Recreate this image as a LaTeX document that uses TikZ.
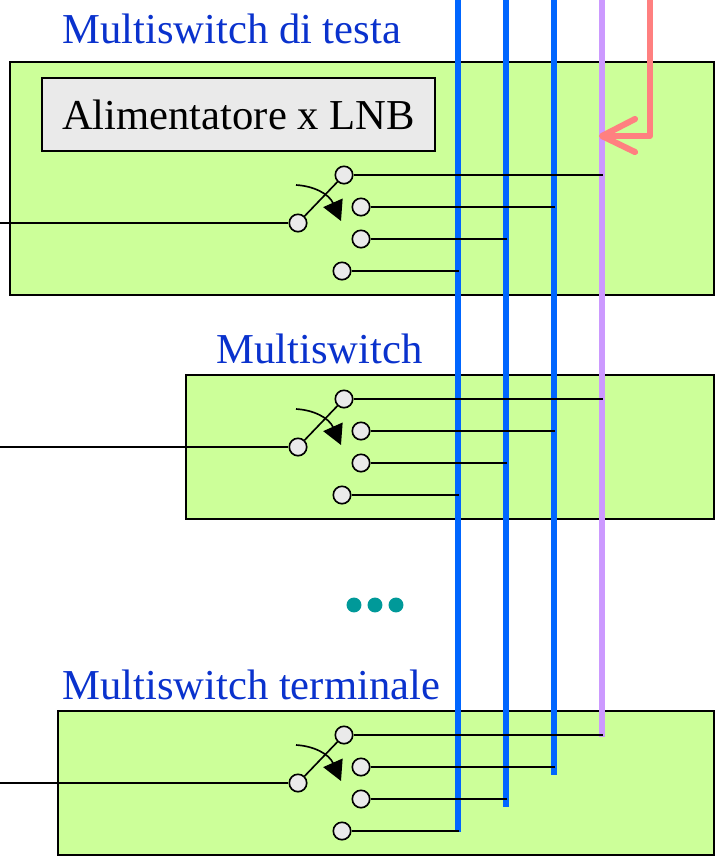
\documentclass[tikz,border=0pt]{standalone}
\usepackage{fontspec}
\setmainfont{Liberation Serif}
\usetikzlibrary{arrows.meta}

\definecolor{boxgreen}{RGB}{204,255,153}
\definecolor{boxgray}{RGB}{234,234,234}
\definecolor{titleblue}{RGB}{10,50,205}
\definecolor{busblue}{RGB}{0,102,255}
\definecolor{buslilac}{RGB}{204,153,255}
\definecolor{feedpink}{RGB}{255,128,128}
\definecolor{dotteal}{RGB}{0,153,153}

\tikzset{
  unit/.style={draw=black, line width=1.2pt, fill=boxgreen},
  title/.style={anchor=base west, inner sep=0pt, text=titleblue, font=\fontsize{36.4}{40}\selectfont},
  contact/.style={circle, draw=black, line width=1.4pt, fill=boxgray, minimum size=17.5*0.85pt, inner sep=0pt},
  wire/.style={line width=1.4pt, black},
  bus/.style={line width=5.2pt, busblue},
  dot/.style={circle, fill=dotteal, minimum size=15*0.85pt, inner sep=0pt}
}

\begin{document}
\begin{tikzpicture}[x=0.03cm, y=-0.03cm]

    \useasboundingbox (0, 0) rectangle (720, 858);

    \draw [unit] (10, 62) rectangle (714, 295);
    \draw [unit] (186, 375) rectangle (714, 519);
    \draw [unit] (58, 711) rectangle (714, 855);

    \node [title] (titletop) at (62, 43) {Multiswitch di testa};
    \node [title] (titlemid) at (216, 363) {Multiswitch};
    \node [title] (titleend) at (62, 699) {Multiswitch terminale};

    \node [draw=black, line width=1.2pt, fill=boxgray, minimum width=395*0.85pt, minimum height=73*0.85pt, inner sep=0pt, text height=26.2pt, text depth=0pt, font=\fontsize{36.4}{40}\selectfont] (power) at (238.5, 114.5) {Alimentatore x LNB};

    \coordinate (v1top) at (458, 0);
    \coordinate (v1end) at (458, 832);
    \coordinate (v2top) at (506, 0);
    \coordinate (v2end) at (506, 807);
    \coordinate (v3top) at (554, 0);
    \coordinate (v3end) at (554, 775);
    \coordinate (v4top) at (602, 0);
    \coordinate (v4end) at (602, 737);

    \draw [bus] (v1top) -- (v1end);
    \draw [bus] (v2top) -- (v2end);
    \draw [bus] (v3top) -- (v3end);
    \draw [bus, buslilac] (v4top) -- (v4end);

    \coordinate (feedtop) at (650, 0);
    \coordinate (feedturn) at (650, 136);
    \coordinate (feedtip) at (602, 136);
    \coordinate (feedup) at (635, 119);
    \coordinate (feeddown) at (635, 152);

    \draw [line width=5.2pt, feedpink, line join=round] (feedtop) -- (feedturn) -- (feedtip);
    \draw [line width=5.2pt, feedpink, line cap=round, line join=round] (feedup) -- (feedtip) -- (feeddown);

    \foreach \s/\dy in {a/0, b/224, c/560} {
      \node [contact] (\s pole) at (298, 223+\dy) {};
      \node [contact] (\s one) at (344, 175+\dy) {};
      \node [contact] (\s two) at (361, 207+\dy) {};
      \node [contact] (\s three) at (361, 239+\dy) {};
      \node [contact] (\s four) at (342, 271+\dy) {};

      \coordinate (\s in) at (0, 223+\dy);
      \coordinate (\s busone) at (603, 175+\dy);
      \coordinate (\s bustwo) at (555, 207+\dy);
      \coordinate (\s busthree) at (507, 239+\dy);
      \coordinate (\s busfour) at (459, 271+\dy);
      \coordinate (\s from) at (296, 185+\dy);
      \coordinate (\s to) at (341, 221+\dy);

      \draw [wire] (\s in) -- (\s pole);
      \draw [wire] (\s pole) -- (\s one);
      \draw [wire] (\s one) -- (\s busone);
      \draw [wire] (\s two) -- (\s bustwo);
      \draw [wire] (\s three) -- (\s busthree);
      \draw [wire] (\s four) -- (\s busfour);
      \draw [wire, -{Triangle[length=20*0.85pt, width=21*0.85pt]}] (\s from) .. controls (314, 186+\dy) and (329, 194+\dy) .. (\s to);
    }

    \node [dot] (dota) at (354, 605) {};
    \node [dot] (dotb) at (375, 605) {};
    \node [dot] (dotc) at (396, 605) {};

\end{tikzpicture}
\end{document}
